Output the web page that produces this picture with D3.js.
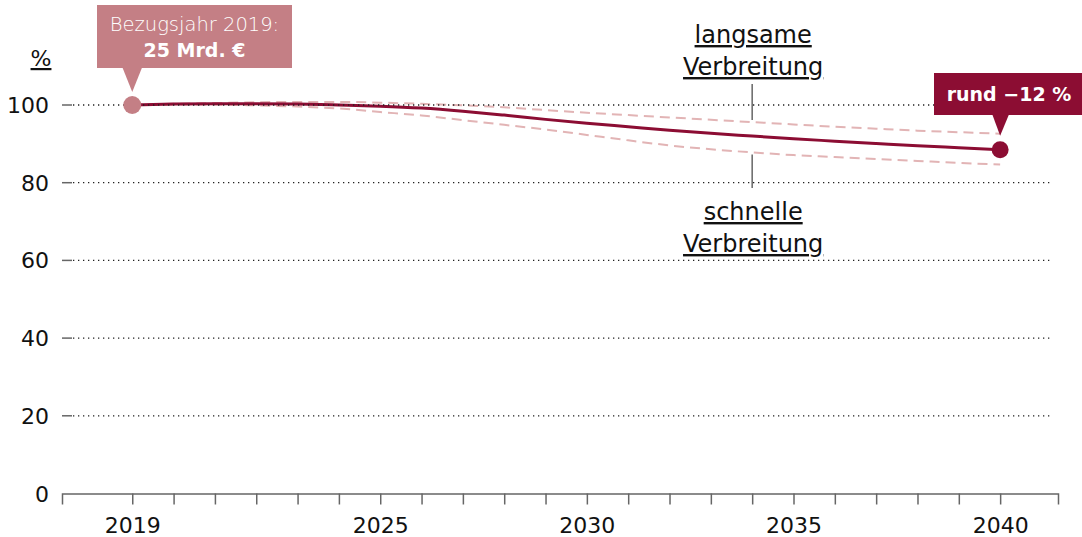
<!DOCTYPE html>
<html>
<head>
<meta charset="utf-8">
<script src="https://cdn.jsdelivr.net/npm/d3@7"></script>
<style>
  html, body { margin: 0; padding: 0; background: #fff; }
  svg { display: block; font-family: "DejaVu Sans", sans-serif; }
</style>
</head>
<body>
<div id="chart"></div>
<script>
// values in % of the 2019 level
const years = [2019, 2020, 2021, 2022, 2023, 2024, 2025, 2026, 2027, 2028, 2029,
  2030, 2031, 2032, 2033, 2034, 2035, 2036, 2037, 2038, 2039, 2040];
const mainValues = [100, 100.25, 100.35, 100.35, 100.25, 100.0, 99.7, 99.2, 98.4, 97.4, 96.3,
  95.3, 94.4, 93.5, 92.7, 92.0, 91.3, 90.7, 90.1, 89.5, 89.0, 88.5];
const slowValues = [100, 100.3, 100.5, 100.7, 100.8, 100.8, 100.6, 100.3, 99.9, 99.4, 98.7,
  98.0, 97.4, 96.8, 96.2, 95.6, 95.0, 94.4, 93.9, 93.4, 93.0, 92.6];
const fastValues = [100, 100.1, 100.1, 99.9, 99.6, 99.1, 98.2, 97.3, 96.1, 94.9, 93.7,
  92.3, 90.9, 89.6, 88.6, 87.8, 87.1, 86.6, 86.1, 85.6, 85.1, 84.7];

const yTicks = [0, 20, 40, 60, 80, 100];
const xLabelYears = [2019, 2025, 2030, 2035, 2040];
const annoYear = 2034;

const startLabel = ["Bezugsjahr 2019:", "25 Mrd. €"];
const endLabel = "rund −12 %";
const slowLabel = ["langsame", "Verbreitung"];
const fastLabel = ["schnelle", "Verbreitung"];

const width = 1082, height = 537;
const darkRed = "#8c0d33", lightRed = "#c47f85", dashRed = "#e2b4b5";

const svg = d3.select("#chart").append("svg")
  .attr("width", width)
  .attr("height", height);

const x = d3.scaleLinear().domain([2017.3, 2041.4]).range([62, 1058]);
const y = d3.scaleLinear().domain([0, 100]).range([493.5, 105]);

// y axis: short stub + dotted grid
const yAxis = svg.append("g").attr("class", "y-axis");
const yt = yAxis.selectAll("g").data(yTicks.filter(d => d > 0)).enter().append("g")
  .attr("transform", d => `translate(0,${y(d)})`);
yt.append("line").attr("x1", 62).attr("x2", 72)
  .attr("stroke", "#666").attr("stroke-width", 1.5);

yAxis.selectAll("text").data(yTicks).enter().append("text")
  .attr("x", 49).attr("y", d => y(d) + 8)
  .attr("text-anchor", "end")
  .attr("font-size", 22).attr("fill", "#111")
  .text(d => d);

svg.append("text")
  .attr("x", 41).attr("y", 66)
  .attr("text-anchor", "middle")
  .attr("font-size", 22).attr("fill", "#111")
  .style("text-decoration", "underline")
  .text("%");

// x axis
const xAxis = d3.axisBottom(x)
  .tickValues(years)
  .tickSize(11)
  .tickFormat(d => xLabelYears.includes(d) ? d : "");
const gx = svg.append("g")
  .attr("transform", `translate(0,${y(0)})`)
  .call(xAxis)
  .attr("font-family", null)
  .attr("font-size", 22);
gx.select(".domain").attr("stroke", "#666").attr("stroke-width", 1.5);
gx.selectAll(".tick line").attr("stroke", "#666").attr("stroke-width", 1.5);
gx.selectAll(".tick text")
  .attr("y", 39).attr("dy", 0)
  .attr("fill", "#111");

// lines
const line = vals => d3.line()
  .x((d, i) => x(years[i]))
  .y(d => y(d))
  .curve(d3.curveMonotoneX)(vals);

svg.append("path").attr("d", line(slowValues))
  .attr("fill", "none").attr("stroke", dashRed)
  .attr("stroke-width", 2).attr("stroke-dasharray", "10,6");
svg.append("path").attr("d", line(fastValues))
  .attr("fill", "none").attr("stroke", dashRed)
  .attr("stroke-width", 2).attr("stroke-dasharray", "10,6");
svg.append("path").attr("d", line(mainValues))
  .attr("fill", "none").attr("stroke", darkRed)
  .attr("stroke-width", 3);

// dotted grid on top
yt.append("line").attr("x1", 73).attr("x2", 1053)
  .attr("stroke", "#222").attr("stroke-width", 1.3)
  .attr("stroke-dasharray", "1.3,3.7");
yAxis.raise();

// end points
const last = years.length - 1;
svg.append("circle").attr("cx", x(years[0])).attr("cy", y(mainValues[0]))
  .attr("r", 9).attr("fill", lightRed);
svg.append("circle").attr("cx", x(years[last])).attr("cy", y(mainValues[last]))
  .attr("r", 8.5).attr("fill", darkRed);

// start label box
const sx = x(years[0]), sy = y(mainValues[0]);
svg.append("rect").attr("x", 97).attr("y", 5).attr("width", 195).attr("height", 63)
  .attr("fill", lightRed);
svg.append("path")
  .attr("d", `M${sx - 10},67 L${sx + 10},67 L${sx},${sy - 13} Z`)
  .attr("fill", lightRed);
svg.append("text").attr("x", 194.5).attr("y", 31)
  .attr("text-anchor", "middle").attr("font-size", 19.5).attr("font-weight", 200)
  .attr("fill", "#fff").text(startLabel[0]);
svg.append("text").attr("x", 194.5).attr("y", 57)
  .attr("text-anchor", "middle").attr("font-size", 19).attr("font-weight", 700)
  .attr("fill", "#fff").text(startLabel[1]);

// end label box
const ex = x(years[last]), ey = y(mainValues[last]);
svg.append("rect").attr("x", 934).attr("y", 73).attr("width", 148).attr("height", 42)
  .attr("fill", darkRed);
svg.append("path")
  .attr("d", `M${ex - 8},114 L${ex + 9},114 L${ex},${ey - 14} Z`)
  .attr("fill", darkRed);
svg.append("text").attr("x", 1009).attr("y", 101)
  .attr("text-anchor", "middle").attr("font-size", 19).attr("font-weight", 700)
  .attr("fill", "#fff").text(endLabel);

// scenario annotations
const ax = x(annoYear);
const slowY = y(slowValues[years.indexOf(annoYear)]);
const fastY = y(fastValues[years.indexOf(annoYear)]);
svg.append("line").attr("x1", ax).attr("x2", ax).attr("y1", 84).attr("y2", slowY - 2)
  .attr("stroke", "#666").attr("stroke-width", 1.5);
svg.append("line").attr("x1", ax).attr("x2", ax).attr("y1", fastY + 2).attr("y2", 188)
  .attr("stroke", "#666").attr("stroke-width", 1.5);

const anno = (lines, y0) => {
  svg.selectAll(null).data(lines).enter().append("text")
    .attr("x", ax + 1).attr("y", (d, i) => y0 + i * 32)
    .attr("text-anchor", "middle").attr("font-size", 24).attr("fill", "#111")
    .style("text-decoration", "underline")
    .text(d => d);
};
anno(slowLabel, 43);
anno(fastLabel, 220);
</script>
</body>
</html>
